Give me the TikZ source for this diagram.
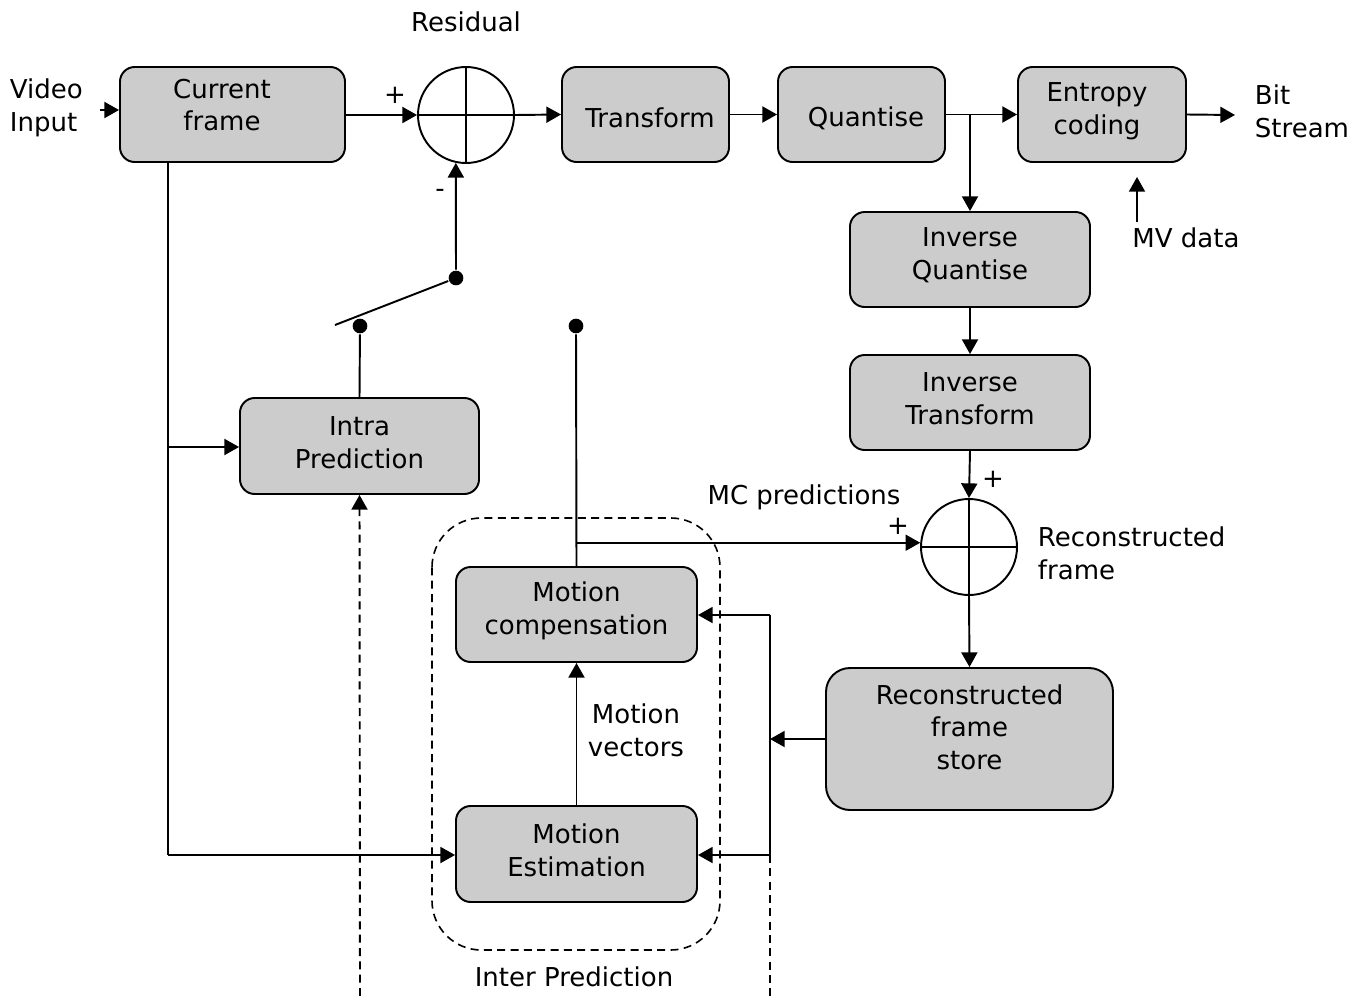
\documentclass[tikz,border=0pt]{standalone}
\usepackage{fontspec}
\setmainfont{DejaVu Sans}
\usetikzlibrary{arrows.meta}
\definecolor{boxgray}{RGB}{204,204,204}
\begin{document}
\fontsize{19.5pt}{24.5pt}\selectfont
\begin{tikzpicture}[x=0.75pt,y=-0.75pt,
  line width=1.45pt,
  >={Triangle[length=11pt,width=12pt]},
  blk/.style={draw,fill=boxgray,rounded corners=11pt,align=center,
    minimum height=71.25pt,inner sep=0pt},
  txt/.style={align=center,inner sep=0pt},
  sumnode/.style={draw,circle,minimum size=72pt,inner sep=0pt},
  dot/.style={circle,fill=black,inner sep=0pt,minimum size=11pt},
  dashline/.style={dash pattern=on 6pt off 4pt}]
\useasboundingbox (0,0) rectangle (1368,996);

% processing blocks
\node[blk,minimum width=168.75pt] (cf) at (232.5,114.5) {};
\node[txt] (cftext) at (222,105) {Current\\frame};
\node[blk,minimum width=125.25pt] (tr) at (645.5,114.5) {};
\node[txt] (trtext) at (650,118) {Transform};
\node[blk,minimum width=125.25pt] (qu) at (861.5,114.5) {};
\node[txt] (qutext) at (866,118) {Quantise};
\node[blk,minimum width=126pt] (ec) at (1102,114.5) {};
\node[txt] (ectext) at (1097,111) {Entropy\\coding};
\node[blk,minimum width=180pt] (iq) at (970,259.5) {};
\node[txt] (iqtext) at (970,255) {Inverse\\Quantise};
\node[blk,minimum width=180pt] (it) at (970,402.5) {};
\node[txt] (ittext) at (970,399) {Inverse\\Transform};
\node[blk,minimum width=215.25pt,minimum height=106.5pt,rounded corners=18pt] (st) at (969.5,739) {};
\node[txt] (sttext) at (969.5,727) {Reconstructed\\frame\\store};
\node[blk,minimum width=180.75pt] (mc) at (576.5,614.5) {};
\node[txt] (mctext) at (576.5,610.5) {Motion\\compensation};
\node[blk,minimum width=180.75pt,minimum height=72pt] (me) at (576.5,854) {};
\node[txt] (metext) at (576.5,850.5) {Motion\\Estimation};
\node[blk,minimum width=179.25pt,minimum height=72pt] (ip) at (359.5,446) {};
\node[txt] (iptext) at (359.5,442.5) {Intra\\Prediction};

% summing junctions
\node[sumnode] (s1) at (466,115) {};
\draw (s1.north) -- (s1.south) (s1.west) -- (s1.east);
\node[sumnode] (s2) at (969,547) {};
\draw (s2.north) -- (s2.south) (s2.west) -- (s2.east);

% inter prediction group
\draw[dashline,line width=1.2pt,rounded corners=37pt] (432,518) rectangle (720,950);
\node[txt] (interlbl) at (574,977) {Inter Prediction};

% labels
\node[txt] (vi) [anchor=west,align=left] at (9,108) {Video\\Input};
\node[txt] (res) at (466,22) {Residual};
\node[txt] (plus1) at (395,95) {+};
\node[txt] (minus1) at (440,193) {-};
\node[txt] (bs) [anchor=west,align=left] at (1254,111) {Bit\\Stream};
\node[txt] (mv) at (1186,238) {MV data};
\node[txt] (plus2) at (993,479) {+};
\node[txt] (plus3) at (898,526) {+};
\node[txt] (mcp) at (804,497) {MC predictions};
\node[txt] (rf) [anchor=west,align=left] at (1037,553) {Reconstructed\\frame};
\node[txt] (mvec) at (636,730) {Motion\\vectors};

% helper points
\coordinate (vin) at (100,110);
\coordinate (bsend) at (1235,115);
\coordinate (mvbot) at (1137,222);
\coordinate (mvtop) at (1137,177);
\coordinate (qb) at (iq.north |- qu.east);
\coordinate (cfdown) at (168,162);
\coordinate (cfbot) at (168,855);
\coordinate (cfip) at (168,447);
\node[dot] (swin) at (456,278) {};
\node[dot] (ipdot) at (360,326) {};
\node[dot] (mcdot) at (576,326) {};
\coordinate (swend) at (335,325);
\coordinate (jmc) at (mc.north |- s2.175);
\coordinate (vtop) at (770,615);
\coordinate (vbot) at (770,855);
\coordinate (vend) at (770,996);
\coordinate (ipend) at (360,996);

% forward path
\draw[->] (vin) -- (vin -| cf.west);
\draw[->] (cf.east |- s1.west) -- (s1.west);
\draw[->] (s1.east) -- (tr.west);
\draw[->] (tr.east) -- (qu.west);
\draw[->] (qu.east) -- (ec.west);
\draw[->] (ec.east) -- (bsend);
\draw[->] (mvbot) -- (mvtop);

% reconstruction path
\draw[->] (qb) -- (iq.north);
\draw[->] (iq.south) -- (it.north);
\draw[->] (it.south) -- (s2.north);
\draw[->] (s2.south) -- (st.north);
\draw[->] (st.west) -- (st.west -| vtop);
\draw (vtop) -- (vbot);
\draw[->] (vtop) -- (vtop -| mc.east);
\draw[->] (vbot) -- (vbot -| me.east);
\draw[dashline] (vbot) -- (vend);

% motion estimation / compensation
\draw[->] (me.north) -- (mc.south);
\draw (mc.north) -- (mcdot);
\draw[->] (jmc) -- (s2.175);

% current frame feeds
\draw (cfdown) -- (cfbot);
\draw[->] (cfbot) -- (cfbot -| me.west);
\draw[->] (cfip) -- (cfip -| ip.west);

% intra prediction and switch
\draw (ip.north) -- (ipdot);
\draw (swend) -- (swin);
\draw[->] (swin) -- (s1.258);
\draw[->,dashline] (ipend) -- (ip.south);
\end{tikzpicture}
\end{document}
